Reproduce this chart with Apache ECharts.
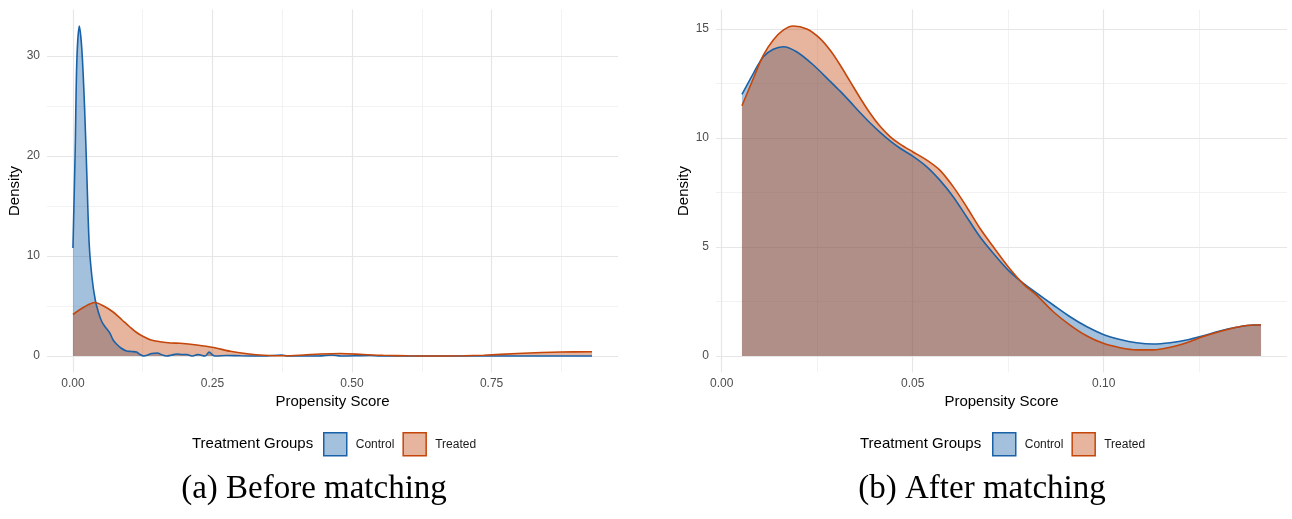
<!DOCTYPE html>
<html>
<head>
<meta charset="utf-8">
<title>Propensity Score Density</title>
<script src="https://cdn.jsdelivr.net/npm/echarts@6/dist/echarts.min.js"></script>
<style>
  html, body { margin: 0; padding: 0; background: #ffffff; }
  #chart { width: 1292px; height: 519px; }
</style>
</head>
<body>
<div id="chart"></div>
<script>
// Group names
const groups = ['Control', 'Treated'];

// Kernel density estimates of the propensity score, before matching: [score, density]
const beforeControl = [
  [0.000, 10.8], [0.004, 20.6], [0.007, 29.6], [0.0113, 33.0], [0.016, 30.6],
  [0.021, 24.6], [0.025, 17.9], [0.029, 11.3], [0.034, 7.9], [0.040, 5.6],
  [0.046, 4.3], [0.052, 3.4], [0.058, 2.9], [0.066, 2.3], [0.072, 1.6],
  [0.078, 1.2], [0.086, 0.8], [0.096, 0.5], [0.105, 0.45], [0.114, 0.4],
  [0.120, 0.15], [0.127, 0.0], [0.134, 0.1], [0.141, 0.25], [0.151, 0.3],
  [0.160, 0.1], [0.168, 0.0], [0.177, 0.1], [0.186, 0.2], [0.196, 0.15],
  [0.204, 0.15], [0.213, 0.0], [0.220, 0.1], [0.225, 0.15], [0.231, 0.05],
  [0.237, 0.0], [0.244, 0.4], [0.250, 0.1], [0.255, 0.0], [0.276, 0.05],
  [0.300, 0.02], [0.340, 0.0], [0.374, 0.1], [0.385, 0.0], [0.440, 0.0],
  [0.464, 0.1], [0.480, 0.0], [0.533, 0.05], [0.550, 0.0], [0.700, 0.0],
  [0.930, 0.0]
];
const beforeTreated = [
  [0.000, 4.15], [0.020, 4.9], [0.039, 5.35], [0.055, 5.0], [0.072, 4.4],
  [0.088, 3.6], [0.102, 2.9], [0.114, 2.35], [0.126, 1.95], [0.140, 1.6],
  [0.156, 1.43], [0.175, 1.3], [0.192, 1.27], [0.222, 1.1], [0.252, 0.85],
  [0.282, 0.47], [0.312, 0.23], [0.342, 0.08], [0.378, 0.02], [0.413, 0.1],
  [0.443, 0.2], [0.479, 0.25], [0.520, 0.15], [0.556, 0.07], [0.600, 0.02],
  [0.646, 0.0], [0.700, 0.02], [0.736, 0.08], [0.796, 0.25], [0.840, 0.35],
  [0.873, 0.4], [0.930, 0.42]
];

// Densities after matching: [score, density]
const afterControl = [
  [0.0053, 12.0], [0.0083, 12.97], [0.0109, 13.73], [0.0135, 14.07], [0.0161, 14.19],
  [0.0196, 13.96], [0.0240, 13.35], [0.0284, 12.6], [0.0310, 12.15], [0.0336, 11.67],
  [0.0362, 11.17], [0.0388, 10.7], [0.0414, 10.27], [0.0440, 9.88], [0.0467, 9.53],
  [0.0500, 9.17], [0.0537, 8.68], [0.0571, 8.07], [0.0606, 7.31], [0.0641, 6.39],
  [0.0676, 5.47], [0.0711, 4.71], [0.0750, 3.94], [0.0790, 3.33], [0.0825, 2.88],
  [0.0868, 2.34], [0.0912, 1.8], [0.0955, 1.35], [0.0999, 0.99], [0.1043, 0.76],
  [0.1086, 0.61], [0.1130, 0.55], [0.1174, 0.61], [0.1217, 0.73], [0.1261, 0.93],
  [0.1304, 1.15], [0.1348, 1.32], [0.1392, 1.42], [0.1412, 1.42]
];
const afterTreated = [
  [0.0053, 11.48], [0.0083, 12.74], [0.0109, 13.8], [0.0135, 14.5], [0.0161, 14.95],
  [0.0187, 15.14], [0.0223, 15.0], [0.0257, 14.57], [0.0285, 14.0], [0.0310, 13.35],
  [0.0336, 12.6], [0.0362, 11.85], [0.0388, 11.15], [0.0414, 10.55], [0.0440, 10.08],
  [0.0467, 9.72], [0.0500, 9.37], [0.0537, 8.99], [0.0571, 8.53], [0.0606, 7.77],
  [0.0641, 6.85], [0.0676, 5.86], [0.0711, 5.01], [0.0750, 4.1], [0.0790, 3.3],
  [0.0825, 2.78], [0.0868, 2.03], [0.0912, 1.42], [0.0955, 0.93], [0.0999, 0.58],
  [0.1043, 0.38], [0.1086, 0.28], [0.1130, 0.28], [0.1174, 0.4], [0.1217, 0.61],
  [0.1261, 0.89], [0.1304, 1.12], [0.1348, 1.32], [0.1392, 1.42], [0.1412, 1.42]
];

// Axis breaks
const beforeXTicks = [0, 0.25, 0.5, 0.75];
const beforeXMinor = [0.125, 0.375, 0.625, 0.875];
const beforeYTicks = [0, 10, 20, 30];
const beforeYMinor = [5, 15, 25];
const afterXTicks = [0, 0.05, 0.1];
const afterXMinor = [0.025, 0.075, 0.125];
const afterYTicks = [0, 5, 10, 15];
const afterYMinor = [2.5, 7.5, 12.5];

// Text
const xTitle = 'Propensity Score';
const yTitle = 'Density';
const legendTitle = 'Treatment Groups';
const captions = ['(a) Before matching', '(b) After matching'];

const LINE = { Control: '#1A62A8', Treated: '#C4460A' };
const FILL_OPACITY = 0.4;
const SANS = '"Liberation Sans", Arial, sans-serif';

// Padded data ranges (5% on each side)
function padded(series, col) {
  let lo = Infinity, hi = -Infinity;
  series.forEach(s => s.forEach(p => { lo = Math.min(lo, p[col]); hi = Math.max(hi, p[col]); }));
  const pad = (hi - lo) * 0.05;
  return [lo - pad, hi + pad];
}
const bX = padded([beforeControl, beforeTreated], 0);
const bY = padded([beforeControl, beforeTreated, [[0, 0]]], 1);
const aX = padded([afterControl, afterTreated], 0);
const aY = padded([afterControl, afterTreated, [[0, 0]]], 1);

function majorAxis(grid, range, ticks, fmt, isX) {
  return {
    type: 'value', gridIndex: grid, min: range[0], max: range[1],
    name: isX ? xTitle : yTitle, nameLocation: 'middle',
    nameGap: isX ? 20 : 22,
    nameTextStyle: { fontFamily: SANS, fontSize: 15, color: '#000000' },
    axisLine: { show: false }, axisTick: { show: false, customValues: ticks },
    axisLabel: { customValues: ticks, formatter: fmt, fontFamily: SANS, fontSize: 12, color: '#4d4d4d', margin: isX ? 5 : 7 },
    splitLine: { show: true, lineStyle: { color: '#e6e6e6', width: 1.2 } },
    z: 1
  };
}
function minorAxis(grid, range, ticks) {
  return {
    type: 'value', gridIndex: grid, min: range[0], max: range[1],
    axisLine: { show: false }, axisTick: { show: false, customValues: ticks },
    axisLabel: { show: false, customValues: ticks },
    splitLine: { show: true, lineStyle: { color: '#f0f0f0', width: 0.9 } },
    z: 0
  };
}
function densitySeries(name, data, xi, yi) {
  return {
    name: name, type: 'line', data: data, xAxisIndex: xi, yAxisIndex: yi,
    smooth: 0.3, symbol: 'none', showSymbol: false, sampling: null,
    lineStyle: { color: LINE[name], width: 1.6 },
    itemStyle: { color: LINE[name] },
    areaStyle: { color: LINE[name], opacity: FILL_OPACITY, origin: 0 },
    emphasis: { disabled: true }, animation: false
  };
}
function legendAt(left) {
  return {
    left: left, top: 432, orient: 'horizontal', padding: 0, itemGap: 8,
    itemWidth: 23, itemHeight: 23, icon: 'rect',
    textStyle: { fontFamily: SANS, fontSize: 12, color: '#1a1a1a', padding: [0, 0, 0, 4] },
    data: groups.map(g => ({
      name: g,
      itemStyle: { color: echarts.color.modifyAlpha(LINE[g], FILL_OPACITY), borderColor: LINE[g], borderWidth: 1.5 }
    }))
  };
}

const fmt2 = v => v.toFixed(2);
const fmt0 = v => String(v);

const chart = echarts.init(document.getElementById('chart'), null, { renderer: 'canvas' });
chart.setOption({
  backgroundColor: '#ffffff',
  animation: false,
  grid: [
    { left: 47, top: 9.5, width: 571, height: 363 },
    { left: 716, top: 9.5, width: 571, height: 363 }
  ],
  xAxis: [
    majorAxis(0, bX, beforeXTicks, fmt2, true),
    minorAxis(0, bX, beforeXMinor),
    majorAxis(1, aX, afterXTicks, fmt2, true),
    minorAxis(1, aX, afterXMinor)
  ],
  yAxis: [
    majorAxis(0, bY, beforeYTicks, fmt0, false),
    minorAxis(0, bY, beforeYMinor),
    majorAxis(1, aY, afterYTicks, fmt0, false),
    minorAxis(1, aY, afterYMinor)
  ],
  legend: [legendAt(323), legendAt(992)],
  series: [
    densitySeries('Control', beforeControl, 0, 0),
    densitySeries('Treated', beforeTreated, 0, 0),
    densitySeries('Control', afterControl, 2, 2),
    densitySeries('Treated', afterTreated, 2, 2)
  ],
  graphic: [
    { type: 'text', left: 192, top: 436, style: { text: legendTitle, font: '15px ' + SANS, fill: '#000000' } },
    { type: 'text', left: 860, top: 436, style: { text: legendTitle, font: '15px ' + SANS, fill: '#000000' } },
    { type: 'text', x: 314, y: 506, style: { text: captions[0], font: '33px "Liberation Serif", "Times New Roman", serif', fill: '#000000', textAlign: 'center', textVerticalAlign: 'bottom' } },
    { type: 'text', x: 982, y: 506, style: { text: captions[1], font: '33px "Liberation Serif", "Times New Roman", serif', fill: '#000000', textAlign: 'center', textVerticalAlign: 'bottom' } }
  ]
});
</script>
</body>
</html>
